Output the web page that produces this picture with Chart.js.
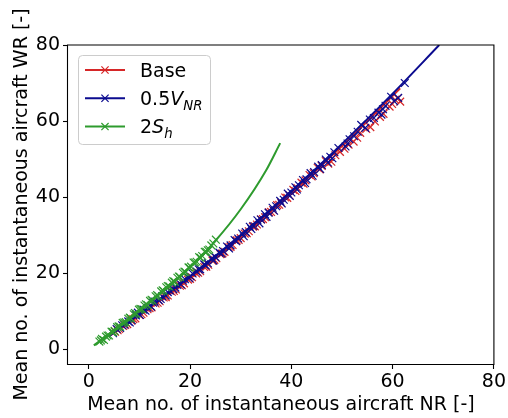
<!DOCTYPE html>
<html>
<head>
<meta charset="utf-8">
<script src="https://cdn.jsdelivr.net/npm/chart.js@4.4.0/dist/chart.umd.min.js"></script>
<style>
  html, body { margin: 0; padding: 0; background: #ffffff; }
  #wrap { width: 508px; height: 418px; position: relative; }
</style>
</head>
<body>
<div id="wrap"><canvas id="c" width="508" height="418"></canvas></div>
<script>
// ---- Tick labels ----
const xTicks = [0, 20, 40, 60, 80];
const yTicks = [0, 20, 40, 60, 80];

// ---- Base scenario: simulated means (NR vs WR) ----
const baseNR = [5.2, 6.0, 6.8, 7.6, 8.4, 9.2, 10.0, 10.8, 11.6, 12.4, 13.2, 14.0, 14.8, 15.6, 16.4, 17.2, 18.0, 18.8, 19.6, 20.4,
  21.2, 22.0, 22.8, 23.6, 24.4, 25.2, 26.0, 26.8, 27.6, 28.4, 29.2, 30.0, 30.8, 31.6, 32.4, 33.2, 34.0, 34.8, 35.6, 36.4,
  37.2, 38.0, 38.8, 39.6, 40.4, 41.2, 42.0, 42.8, 43.6, 44.4, 45.2, 46.0, 46.8, 47.9, 48.7, 49.6, 51.3, 52.3, 53.6, 54.8,
  56.5, 58.2, 59.4, 60.5, 61.5,
  5.7, 7.2, 8.8, 10.4, 12.0, 13.6, 15.2, 16.8, 18.4, 20.0, 21.6, 23.2, 24.8, 26.4, 28.0, 29.6, 31.2, 32.8, 34.4, 36.0,
  37.6, 39.2, 40.8, 42.4, 44.0, 45.6, 47.3, 50.5, 53.0, 55.6, 57.5, 59.9, 61.0];
const baseWR = [4.6, 5.3, 6.1, 6.6, 7.5, 8.1, 9.0, 9.6, 10.5, 11.0, 12.0, 12.6, 13.6, 14.1, 15.1, 15.7, 16.7, 17.3, 18.3, 18.9,
  19.9, 20.5, 21.6, 22.2, 23.3, 23.9, 25.0, 25.6, 26.8, 27.4, 28.6, 29.2, 30.4, 31.0, 32.2, 32.8, 34.1, 34.7, 36.0, 36.6,
  37.9, 38.5, 39.9, 40.5, 41.9, 42.4, 43.8, 44.4, 45.8, 46.3, 47.7, 48.2, 49.5, 49.3, 51.0, 51.9, 53.8, 54.6, 56.9, 57.9,
  59.9, 61.9, 63.8, 65.6, 65.1,
  5.0, 6.4, 7.9, 9.2, 10.8, 12.2, 13.7, 15.3, 16.8, 18.5, 20.1, 21.7, 23.5, 25.2, 26.9, 28.7, 30.5, 32.3, 34.2, 36.1,
  38.0, 39.8, 41.6, 43.5, 45.4, 47.3, 48.8, 52.7, 55.6, 58.4, 61.1, 64.5, 66.0];
const baseFitNR = [5, 10, 20, 30, 40, 50, 61.5];
const baseFitWR = [4.4, 9.0, 18.9, 29.6, 41.1, 53.4, 68.6];

// ---- Half NR speed scenario ----
const vnrNR = [4.8, 5.5, 6.2, 7.0, 7.8, 8.5, 9.3, 10.1, 10.8, 11.6, 12.3, 13.0, 13.8, 14.5, 15.2, 16.0, 16.7, 17.5, 18.2, 19.0,
  19.8, 20.5, 21.3, 22.0, 22.8, 23.5, 24.3, 25.0, 25.8, 26.5, 27.3, 28.0, 28.8, 29.5, 30.3, 31.0, 31.8, 32.5, 33.3, 34.0,
  34.8, 35.5, 36.3, 37.0, 37.8, 38.5, 39.3, 40.0, 40.8, 41.5, 42.3, 43.0, 43.8, 44.5, 45.3, 46.0, 46.8, 47.7, 48.5, 49.3,
  50.7, 51.5, 52.4, 53.8, 54.6, 55.5, 57.2, 57.8, 58.6, 59.7, 61.1, 62.4,
  6.6, 8.1, 9.7, 11.2, 12.7, 14.2, 15.6, 17.1, 18.6, 20.1, 21.7, 23.1, 24.6, 26.2, 27.7, 29.1, 30.6, 32.1, 33.7, 35.1,
  36.6, 38.1, 39.7, 41.1, 42.7, 44.2, 45.7, 47.2, 48.1, 51.1, 53.1, 56.3, 58.1, 60.3];
const vnrWR = [4.2, 5.3, 5.6, 6.5, 7.3, 7.6, 8.9, 9.0, 10.4, 10.9, 11.2, 12.5, 12.9, 13.9, 14.1, 15.4, 15.8, 16.9, 17.0, 18.4,
  18.7, 19.9, 20.4, 21.0, 22.3, 22.6, 23.9, 24.2, 25.4, 25.8, 27.0, 27.3, 28.7, 29.1, 30.4, 30.8, 32.2, 32.4, 33.9, 34.1,
  35.5, 35.9, 37.2, 37.6, 39.0, 39.3, 40.9, 41.2, 42.6, 43.1, 44.5, 44.7, 46.3, 46.6, 48.0, 48.4, 49.9, 50.6, 51.8, 52.9,
  53.3, 55.2, 56.0, 59.0, 58.2, 60.4, 62.2, 61.7, 64.0, 66.4, 66.1, 70.0,
  6.3, 7.0, 9.6, 10.1, 12.2, 13.2, 15.0, 16.2, 18.0, 19.1, 21.0, 22.0, 23.3, 25.1, 26.5, 28.4, 29.7, 31.6, 33.1, 34.8,
  36.4, 38.3, 40.3, 42.0, 43.7, 45.6, 47.4, 49.1, 50.2, 54.1, 57.2, 60.8, 63.1, 65.2];
const vnrFitNR = [4, 10, 20, 30, 40, 50, 60, 69.2];
const vnrFitWR = [3.6, 9.2, 19.2, 30.0, 41.6, 54.0, 67.2, 80.0];

// ---- Doubled separation scenario ----
const shNR = [2.1, 2.6, 3.0, 3.4, 4.0, 4.5, 5.1, 5.6, 6.2, 6.7, 7.3, 7.8, 8.3, 8.9, 9.4, 9.9, 10.5, 11.0, 11.6, 12.1,
  12.6, 13.2, 13.7, 14.3, 14.8, 15.3, 15.9, 16.4, 17.0, 17.5, 18.0, 18.6, 19.1, 19.7, 20.2, 20.7, 21.3, 21.8, 22.4, 22.9,
  23.5, 24.2, 25.1,
  2.4, 3.7, 4.8, 5.9, 7.0, 8.1, 9.1, 10.2, 11.3, 12.4, 13.5, 14.6, 15.6, 16.7, 17.8, 18.9, 19.9, 21.0, 22.1, 23.2,
  24.6, 23.8];
const shWR = [2.0, 2.7, 2.4, 3.3, 3.6, 4.6, 4.8, 5.8, 5.9, 6.9, 7.1, 8.0, 8.1, 9.2, 9.3, 10.4, 10.5, 11.5, 11.6, 12.7,
  12.8, 13.9, 14.0, 15.2, 15.3, 16.3, 16.5, 17.5, 17.7, 18.8, 19.0, 20.1, 20.3, 21.5, 21.7, 22.8, 23.0, 24.2, 24.5, 25.6,
  26.0, 27.3, 28.8,
  2.3, 3.6, 4.5, 6.0, 7.0, 8.3, 9.5, 10.6, 11.8, 13.0, 14.2, 15.5, 16.6, 17.9, 19.1, 20.4, 21.4, 22.8, 24.0, 25.6,
  27.8, 26.2];
const shFitNR = [1, 5, 10, 15, 20, 25, 30, 35, 37.8];
const shFitWR = [1.0, 5.0, 10.3, 15.6, 21.5, 28.5, 36.8, 47.0, 54.2];

// ---- Styling ----
const RED = '#d62728';
const BLUE = '#0b0b8f';
const GREEN = '#2e9b2e';
const FAMILY = "'DejaVu Sans', sans-serif";
const FS = 19;

const pairs = (xs, ys) => xs.map((x, i) => ({ x: x, y: ys[i] }));

function fitSet(xs, ys, color, order) {
  return {
    data: pairs(xs, ys), showLine: true, borderColor: color, borderWidth: 2,
    pointRadius: 0, cubicInterpolationMode: 'monotone', fill: false, order: order
  };
}
function markSet(xs, ys, color, order) {
  return {
    data: pairs(xs, ys), showLine: false, pointStyle: 'crossRot', pointRadius: 5.5,
    borderColor: color, backgroundColor: color, pointBorderWidth: 1.2, order: order
  };
}

// Legend entries: plain text runs, italics and subscripts
const legendItems = [
  { color: RED, parts: [{ t: 'Base' }] },
  { color: BLUE, parts: [{ t: '0.5' }, { t: 'V', it: true }, { t: 'NR', it: true, sub: true }] },
  { color: GREEN, parts: [{ t: '2' }, { t: 'S', it: true }, { t: 'h', it: true, sub: true }] }
];

const framePlugin = {
  id: 'frame',
  afterDraw(chart) {
    const { ctx, chartArea: a } = chart;
    ctx.save();
    ctx.strokeStyle = '#000';
    ctx.lineWidth = 1.1;
    ctx.beginPath();
    ctx.moveTo(a.left - 0.5, a.top);
    ctx.lineTo(a.left - 0.5, a.bottom + 0.5);
    ctx.lineTo(a.right, a.bottom + 0.5);
    ctx.lineTo(a.right, a.top);
    ctx.closePath();
    ctx.stroke();
    ctx.restore();
  }
};

const legendPlugin = {
  id: 'mathLegend',
  afterDraw(chart) {
    const ctx = chart.ctx;
    const a = chart.chartArea;
    const bx = a.left + 10.5, by = a.top + 10.5, bw = 132, bh = 89, r = 4;
    ctx.save();
    ctx.beginPath();
    ctx.moveTo(bx + r, by);
    ctx.arcTo(bx + bw, by, bx + bw, by + bh, r);
    ctx.arcTo(bx + bw, by + bh, bx, by + bh, r);
    ctx.arcTo(bx, by + bh, bx, by, r);
    ctx.arcTo(bx, by, bx + bw, by, r);
    ctx.closePath();
    ctx.fillStyle = 'rgba(255,255,255,0.8)';
    ctx.fill();
    ctx.strokeStyle = '#cccccc';
    ctx.lineWidth = 1;
    ctx.stroke();

    legendItems.forEach((item, i) => {
      const y = a.top + 25 + i * 28.3;
      const x0 = a.left + 17, x1 = a.left + 57, xm = (x0 + x1) / 2;
      ctx.strokeStyle = item.color;
      ctx.lineWidth = 2;
      ctx.beginPath();
      ctx.moveTo(x0, y); ctx.lineTo(x1, y);
      ctx.stroke();
      ctx.lineWidth = 1.2;
      const d = 3.6;
      ctx.beginPath();
      ctx.moveTo(xm - d, y - d); ctx.lineTo(xm + d, y + d);
      ctx.moveTo(xm - d, y + d); ctx.lineTo(xm + d, y - d);
      ctx.stroke();

      let tx = a.left + 72;
      const base = y + 6.8;
      ctx.fillStyle = '#000';
      ctx.textBaseline = 'alphabetic';
      ctx.textAlign = 'left';
      item.parts.forEach(p => {
        const size = p.sub ? FS * 0.7 : FS;
        ctx.font = (p.it ? 'italic ' : '') + size + 'px ' + FAMILY;
        ctx.fillText(p.t, tx, p.sub ? base + 4.5 : base);
        tx += ctx.measureText(p.t).width;
      });
    });
    ctx.restore();
  }
};

const tickFont = { family: FAMILY, size: FS };

new Chart(document.getElementById('c'), {
  type: 'scatter',
  data: {
    datasets: [
      fitSet(baseFitNR, baseFitWR, RED, 6),
      markSet(baseNR, baseWR, RED, 5),
      fitSet(vnrFitNR, vnrFitWR, BLUE, 3),
      markSet(vnrNR, vnrWR, BLUE, 4),
      fitSet(shFitNR, shFitWR, GREEN, 1),
      markSet(shNR, shWR, GREEN, 2)
    ]
  },
  options: {
    responsive: false,
    devicePixelRatio: 1,
    animation: false,
    events: [],
    layout: { padding: { top: 45, right: 11, left: 0, bottom: 0 } },
    plugins: { legend: { display: false }, tooltip: { enabled: false } },
    scales: {
      x: {
        type: 'linear', min: -4.1, max: 80,
        afterBuildTicks: s => { s.ticks = xTicks.map(v => ({ value: v })); },
        afterFit: s => { s.height = 54; },
        ticks: { font: tickFont, color: '#000', padding: 2, maxRotation: 0 },
        grid: { drawOnChartArea: false, drawTicks: true, tickLength: 5, tickColor: '#000', color: '#000', tickWidth: 1.1 },
        border: { display: false },
        title: { display: true, text: 'Mean no. of instantaneous aircraft NR [-]', color: '#000',
                 font: tickFont, padding: { top: 0, bottom: 2 } }
      },
      y: {
        type: 'linear', min: -3.9, max: 80,
        afterBuildTicks: s => { s.ticks = yTicks.map(v => ({ value: v })); },
        afterFit: s => { s.width = 68; },
        ticks: { font: tickFont, color: '#000', padding: 3 },
        grid: { drawOnChartArea: false, drawTicks: true, tickLength: 5, tickColor: '#000', color: '#000', tickWidth: 1.1 },
        border: { display: false },
        title: { display: true, text: 'Mean no. of instantaneous aircraft WR [-]', color: '#000',
                 font: tickFont, padding: { top: 11, bottom: 0 } }
      }
    }
  },
  plugins: [framePlugin, legendPlugin]
});
</script>
</body>
</html>
